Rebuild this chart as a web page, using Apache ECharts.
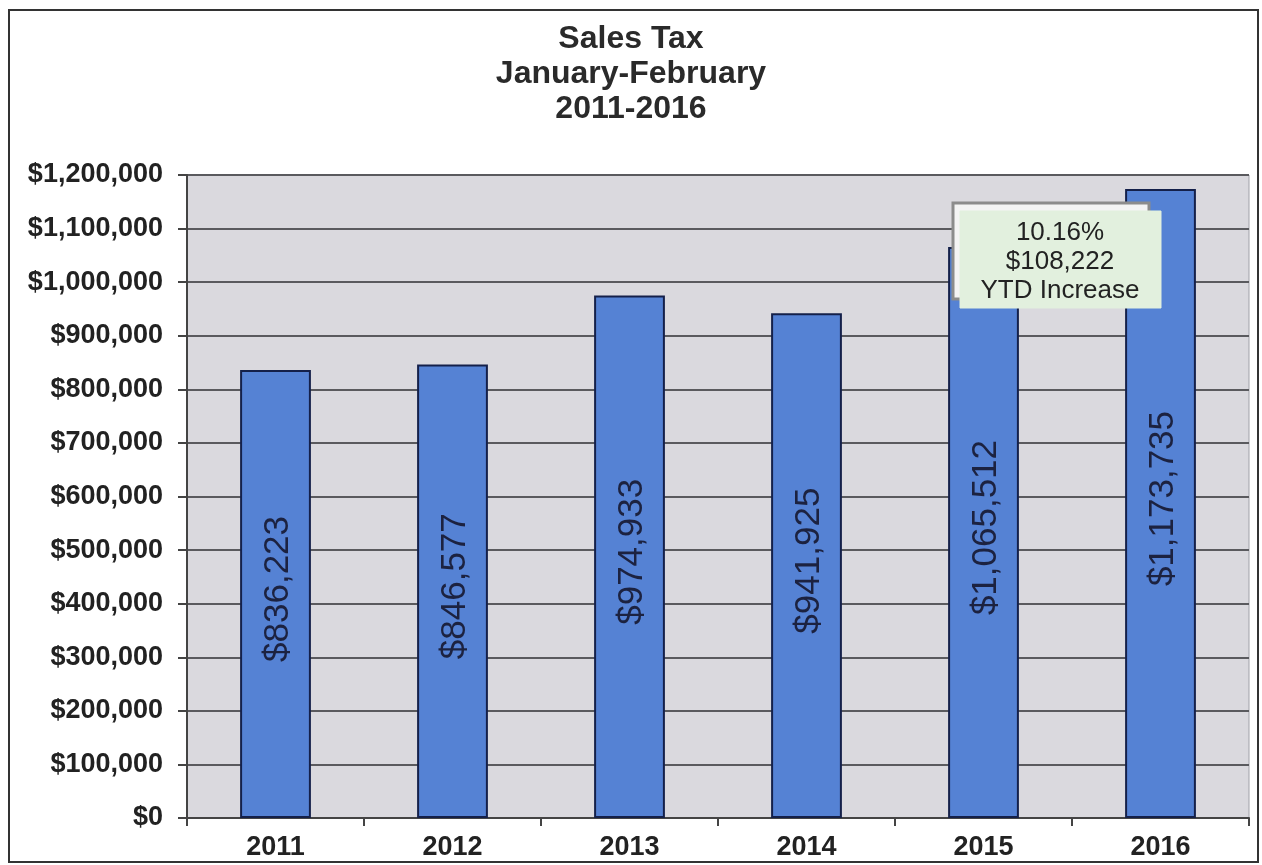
<!DOCTYPE html>
<html>
<head>
<meta charset="utf-8">
<script src="https://cdn.jsdelivr.net/npm/echarts@6/dist/echarts.min.js"></script>
<style>
  html, body { margin: 0; padding: 0; background: #ffffff; }
  #chart { width: 1262px; height: 865px; }
</style>
</head>
<body>
<div id="chart"></div>
<script>
// Sales tax collected in January-February of each year
const years = ['2011', '2012', '2013', '2014', '2015', '2016'];
const salesTax = [836223, 846577, 974933, 941925, 1065512, 1173735];
const titleLines = ['Sales Tax', 'January-February', '2011-2016'];
const noteLines = ['10.16%', '$108,222', 'YTD Increase'];

const FONT = '"Liberation Sans", Arial, Helvetica, sans-serif';
const money = v => '$' + Math.round(v).toLocaleString('en-US');

const chart = echarts.init(document.getElementById('chart'), null, { renderer: 'canvas' });

chart.setOption({
  backgroundColor: '#ffffff',
  animation: false,
  title: {
    text: titleLines.join('\n'),
    left: 'center',
    top: 17,
    textStyle: {
      fontFamily: FONT,
      fontSize: 32,
      fontWeight: 'bold',
      color: '#2a2a2a',
      lineHeight: 35
    }
  },
  grid: {
    left: 187,
    right: 13,
    top: 175,
    bottom: 47,
    show: true,
    backgroundColor: '#dad9de',
    borderColor: '#a0a0a8',
    borderWidth: 1
  },
  xAxis: {
    type: 'category',
    data: years,
    axisLine: { lineStyle: { color: '#444', width: 2 } },
    axisTick: { show: true, length: 8, lineStyle: { color: '#444', width: 2 } },
    axisLabel: {
      fontFamily: FONT,
      fontSize: 27,
      fontWeight: 'bold',
      color: '#222',
      margin: 16
    }
  },
  yAxis: {
    type: 'value',
    min: 0,
    max: 1200000,
    interval: 100000,
    axisLine: { show: true, lineStyle: { color: '#444', width: 2 } },
    axisTick: { show: true, length: 9, lineStyle: { color: '#444', width: 2 } },
    splitLine: { show: true, lineStyle: { color: '#5a5a5e', width: 2 } },
    axisLabel: {
      formatter: money,
      fontFamily: FONT,
      fontSize: 27,
      fontWeight: 'bold',
      color: '#222',
      margin: 24
    }
  },
  series: [{
    type: 'bar',
    data: salesTax,
    barWidth: '40%',
    itemStyle: {
      color: '#5582d4',
      borderColor: '#14204a',
      borderWidth: 2
    },
    label: {
      show: true,
      position: 'inside',
      rotate: 90,
      offset: [5, 3],
      formatter: p => money(p.value),
      fontFamily: FONT,
      fontSize: 35,
      color: '#1c2240'
    }
  }],
  graphic: [
    // page frame
    {
      type: 'rect',
      shape: { x: 9, y: 10, width: 1249, height: 852 },
      style: { fill: 'none', stroke: '#333', lineWidth: 2 },
      z: 100
    },
    // callout shadow panel
    {
      type: 'rect',
      shape: { x: 953, y: 203, width: 196, height: 96 },
      style: { fill: '#f4f4f4', stroke: '#8c8c8c', lineWidth: 3 },
      z: 101
    },
    // callout panel
    {
      type: 'rect',
      shape: { x: 960, y: 211, width: 201, height: 97 },
      style: { fill: '#e2f0de', stroke: '#e2f0de', lineWidth: 1 },
      z: 102
    },
    {
      type: 'text',
      x: 1060,
      y: 218,
      style: {
        text: noteLines.join('\n'),
        fontFamily: FONT,
        fontSize: 26,
        lineHeight: 29,
        fill: '#222',
        align: 'center',
        verticalAlign: 'top'
      },
      z: 103
    }
  ]
});
</script>
</body>
</html>
